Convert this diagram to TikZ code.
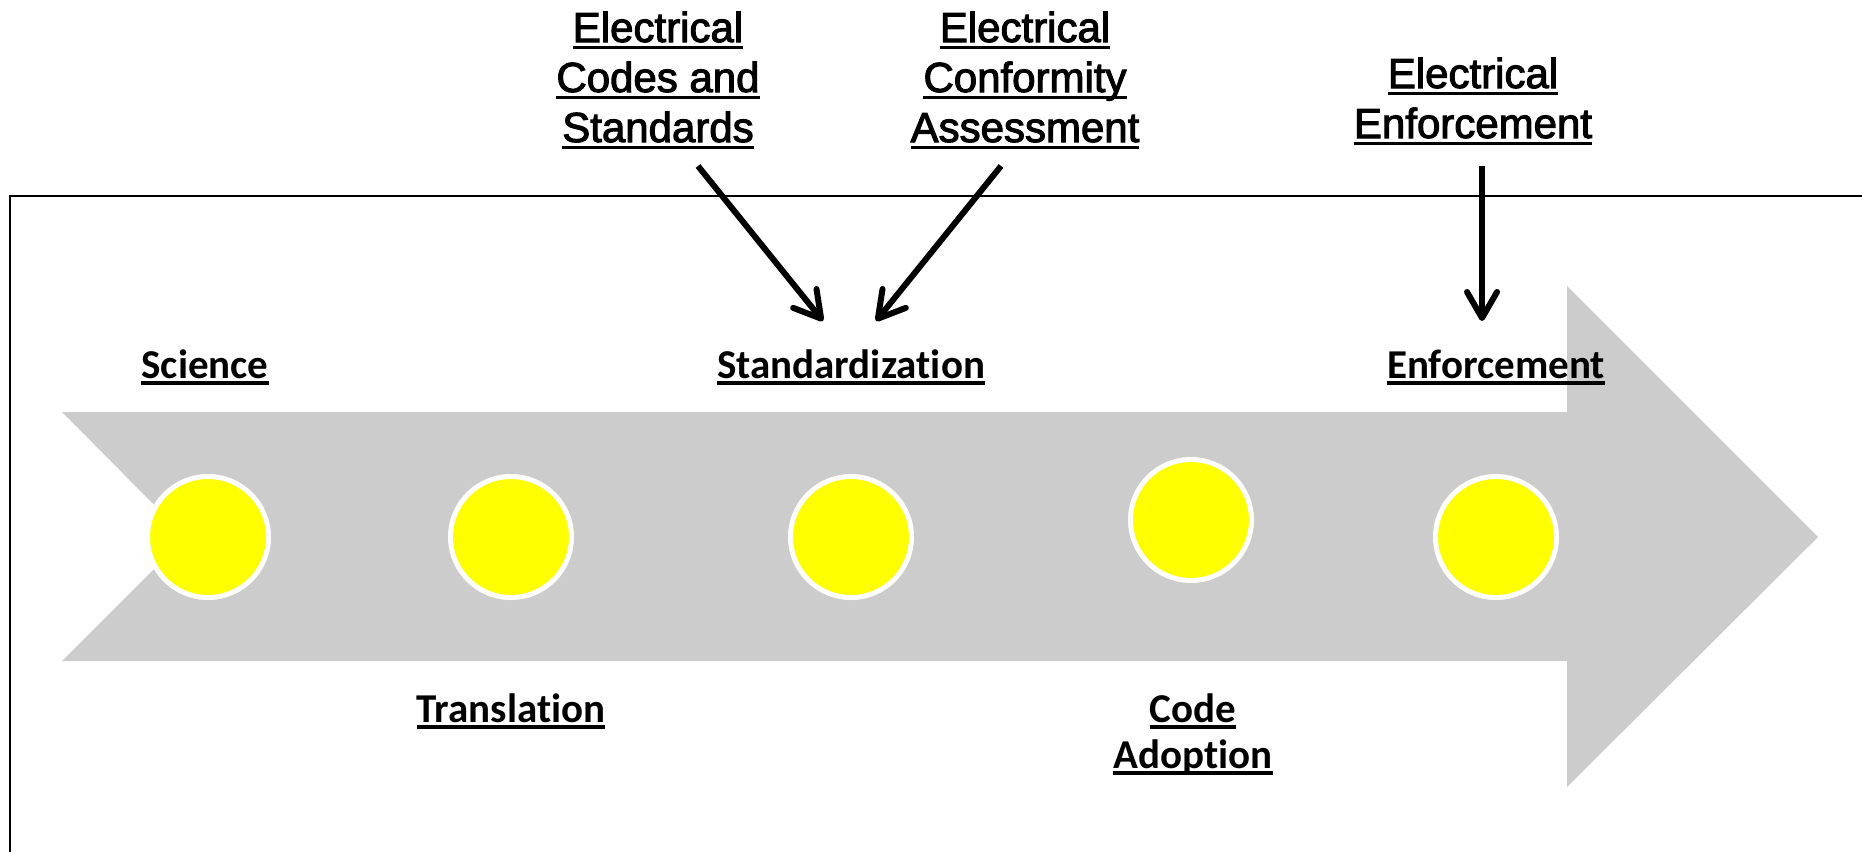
\documentclass[tikz,border=0pt]{standalone}
\usepackage{fontspec}
\setmainfont{Liberation Sans}
\newfontfamily\srcfont[FakeBold=2.5]{Liberation Sans}
\newfontfamily\calfont[Ligatures=NoCommon]{Carlito}
\usetikzlibrary{arrows.meta}

\definecolor{shaftgray}{HTML}{CCCCCC}
\definecolor{dotyellow}{HTML}{FFFF00}

% underline at a fixed depth below the baseline (descenders cross it)
\newcommand\ulword[1]{\setbox0=\hbox{#1}\leavevmode\rlap{\vrule width\wd0 height -0.085em depth 0.16em}\box0}

\tikzset{
  dot/.style={circle, fill=dotyellow, draw=white, line width=5pt, minimum size=121pt, inner sep=0pt},
  stage/.style={font=\calfont\bfseries\fontsize{41}{46}\selectfont, inner sep=0pt, anchor=base},
  source/.style={font=\srcfont\fontsize{42}{50}\selectfont, inner sep=0pt, anchor=base},
  pointer/.style={line width=6pt, -{Straight Barb[length=26pt,width=30pt,round]}}
}

\begin{document}
\begin{tikzpicture}[x=1pt,y=-1pt]
\useasboundingbox (0,0) rectangle (1862,852);

% open frame
\draw[line width=2pt] (10,852) -- (10,196) -- (1862,196);

% timeline arrow
\fill[shaftgray] (62,412) -- (1567,412) -- (1567,286) -- (1818,537)
  -- (1567,787) -- (1567,661) -- (62,661) -- (186,537) -- cycle;

% milestones
\node[dot] (d1) at (208,537) {};
\node[dot] (d2) at (511,537) {};
\node[dot] (d3) at (851,537) {};
\node[dot] (d4) at (1191,520) {};
\node[dot] (d5) at (1496,537) {};

% stage names
\node[stage] (science) at (205,378) {\ulword{Science}};
\node[stage] (standard) at (851,378) {\ulword{Standardization}};
\node[stage] (enforce) at (1496,378) {\ulword{Enforcement}};
\node[stage] (transl) at (511,722) {\ulword{Translation}};
\node[stage] (adopt) at (1193,722) {\begin{tabular}[t]{@{}c@{}}\ulword{Code}\\\ulword{Adoption}\end{tabular}};

% inputs
\node[source] (codes) at (658,42) {\begin{tabular}[t]{@{}c@{}}\ulword{Electrical}\\\ulword{Codes and}\\\ulword{Standards}\end{tabular}};
\node[source] (conform) at (1025,42) {\begin{tabular}[t]{@{}c@{}}\ulword{Electrical}\\\ulword{Conformity}\\\ulword{Assessment}\end{tabular}};
\node[source] (elenf) at (1473,88) {\begin{tabular}[t]{@{}c@{}}\ulword{Electrical}\\\ulword{Enforcement}\end{tabular}};

\coordinate (p1s) at (698,166);
\coordinate (p1e) at (823,321);
\coordinate (p2s) at (1001,166);
\coordinate (p2e) at (876,321);
\coordinate (p3s) at (1482,166);
\coordinate (p3e) at (1482,321);

\draw[pointer] (p1s) -- (p1e);
\draw[pointer] (p2s) -- (p2e);
\draw[pointer] (p3s) -- (p3e);
\end{tikzpicture}
\end{document}
